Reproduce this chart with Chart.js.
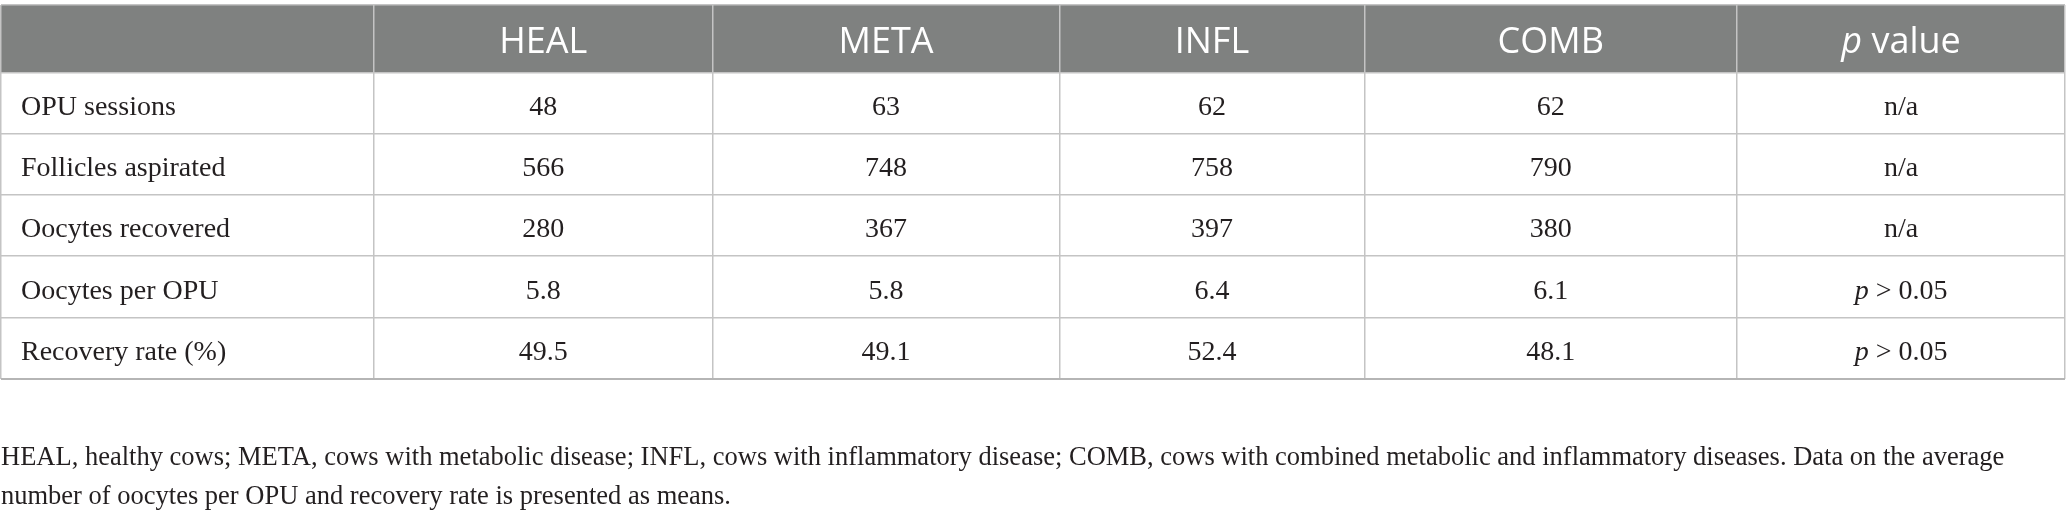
<!DOCTYPE html>
<html>
<head>
<meta charset="utf-8">
<script src="https://cdn.jsdelivr.net/npm/chart.js@4.4.1/dist/chart.umd.min.js"></script>
<style>
  html, body { margin: 0; padding: 0; background: #ffffff; }
  #wrap { position: relative; width: 2068px; height: 519px; }
</style>
</head>
<body>
<div id="wrap"><canvas id="table"></canvas></div>
<script>
// table content
const groups = ['HEAL', 'META', 'INFL', 'COMB'];
const rowLabels = ['OPU sessions', 'Follicles aspirated', 'Oocytes recovered', 'Oocytes per OPU', 'Recovery rate (%)'];
const heal = [48, 566, 280, 5.8, 49.5];
const meta = [63, 748, 367, 5.8, 49.1];
const infl = [62, 758, 397, 6.4, 52.4];
const comb = [62, 790, 380, 6.1, 48.1];
const pValues = ['n/a', 'n/a', 'n/a', '>0.05', '>0.05'];
const footnote = [
	'HEAL, healthy cows; META, cows with metabolic disease; INFL, cows with inflammatory disease; COMB, cows with combined metabolic and inflammatory diseases. Data on the average',
	'number of oocytes per OPU and recovery rate is presented as means.'
];

// layout of the grid, in table units
const colEdges = [0, 373, 712, 1059, 1364, 1737, 2065];
const rowEdges = [0, 67.5, 129, 190, 251, 313, 374];

const headFont = '36px "Open Sans"';
const headFontItalic = 'italic 36px "Open Sans"';
const bodyFont = '28px "Liberation Serif"';
const bodyFontItalic = 'italic 28px "Liberation Serif"';
const textColor = '#231f20';

const seriesCols = [heal, meta, infl, comb];

function drawPieces(ctx, pieces, cx, y) {
	// pieces: [[text, font], ...] drawn centred as one run
	var total = 0;
	pieces.forEach(function (p) { ctx.font = p[1]; total += ctx.measureText(p[0]).width; });
	var x = cx - total / 2;
	ctx.textAlign = 'left';
	pieces.forEach(function (p) {
		ctx.font = p[1];
		ctx.fillText(p[0], x, y);
		x += ctx.measureText(p[0]).width;
	});
}

const tablePlugin = {
	id: 'tablePlugin',
	beforeDraw: function (chart) {
		var ctx = chart.ctx, xs = chart.scales.x, ys = chart.scales.y;
		var x0 = xs.getPixelForValue(colEdges[0]);
		var x1 = xs.getPixelForValue(colEdges[colEdges.length - 1]);
		var y0 = ys.getPixelForValue(rowEdges[0]);
		var y1 = ys.getPixelForValue(rowEdges[1]);
		ctx.save();
		ctx.fillStyle = '#7f8180';
		ctx.fillRect(x0, y0, x1 - x0, y1 - y0);
		ctx.restore();
	},
	afterDraw: function (chart) {
		var ctx = chart.ctx, xs = chart.scales.x, ys = chart.scales.y;
		ctx.save();
		ctx.textBaseline = 'alphabetic';

		// header row
		var hy = (ys.getPixelForValue(rowEdges[0]) + ys.getPixelForValue(rowEdges[1])) / 2 + 14;
		ctx.fillStyle = '#ffffff';
		groups.forEach(function (g, i) {
			var cx = (xs.getPixelForValue(colEdges[i + 1]) + xs.getPixelForValue(colEdges[i + 2])) / 2;
			drawPieces(ctx, [[g, headFont]], cx, hy);
		});
		var pcx = (xs.getPixelForValue(colEdges[5]) + xs.getPixelForValue(colEdges[6])) / 2;
		drawPieces(ctx, [['p', headFontItalic], [' value', headFont]], pcx, hy);

		// body rows
		ctx.fillStyle = textColor;
		rowLabels.forEach(function (label, r) {
			var cy = (ys.getPixelForValue(rowEdges[r + 1]) + ys.getPixelForValue(rowEdges[r + 2])) / 2 + 11.5;
			ctx.font = bodyFont;
			ctx.textAlign = 'left';
			ctx.fillText(label, xs.getPixelForValue(colEdges[0]) + 20, cy);
			seriesCols.forEach(function (col, c) {
				var cx = (xs.getPixelForValue(colEdges[c + 1]) + xs.getPixelForValue(colEdges[c + 2])) / 2;
				drawPieces(ctx, [[String(col[r]), bodyFont]], cx, cy);
			});
			var p = pValues[r];
			if (p.charAt(0) === '>') {
				drawPieces(ctx, [['p', bodyFontItalic], [' > ' + p.slice(1), bodyFont]], pcx, cy);
			} else {
				drawPieces(ctx, [[p, bodyFont]], pcx, cy);
			}
		});
		ctx.restore();
	}
};

var table = document.getElementById('table').getContext('2d');
var tableChart = new Chart(table, {
	type: 'scatter',
	data: { datasets: [] },
	options: {
		responsive: true,
		maintainAspectRatio: false,
		animation: false,
		events: [],
		layout: { padding: { top: 5, left: 1, right: 3, bottom: 2.5 } },
		scales: {
			x: {
				type: 'linear',
				min: colEdges[0],
				max: colEdges[colEdges.length - 1],
				afterBuildTicks: function (scale) {
					scale.ticks = colEdges.map(function (v) { return { value: v }; });
				},
				ticks: { display: false },
				border: { display: false },
				grid: { drawTicks: false, color: '#c4c4c4', lineWidth: 1.5 }
			},
			y: {
				type: 'linear',
				reverse: true,
				min: rowEdges[0],
				max: rowEdges[rowEdges.length - 1],
				afterBuildTicks: function (scale) {
					scale.ticks = rowEdges.map(function (v) { return { value: v }; });
				},
				ticks: { display: false },
				border: { display: false },
				grid: {
					drawTicks: false,
					color: function (c) { return c.index === rowEdges.length - 1 ? '#b5b5b5' : '#c4c4c4'; },
					lineWidth: function (c) { return c.index === rowEdges.length - 1 ? 2 : 1.5; }
				}
			}
		},
		plugins: {
			legend: { display: false },
			tooltip: { enabled: false },
			title: {
				display: true,
				position: 'bottom',
				align: 'start',
				text: footnote,
				color: textColor,
				font: { family: 'Liberation Serif', size: 26.5, weight: 'normal', lineHeight: 39 / 26.5 },
				padding: { top: 59.5, bottom: 0 }
			}
		}
	},
	plugins: [tablePlugin]
});
</script>
</body>
</html>
